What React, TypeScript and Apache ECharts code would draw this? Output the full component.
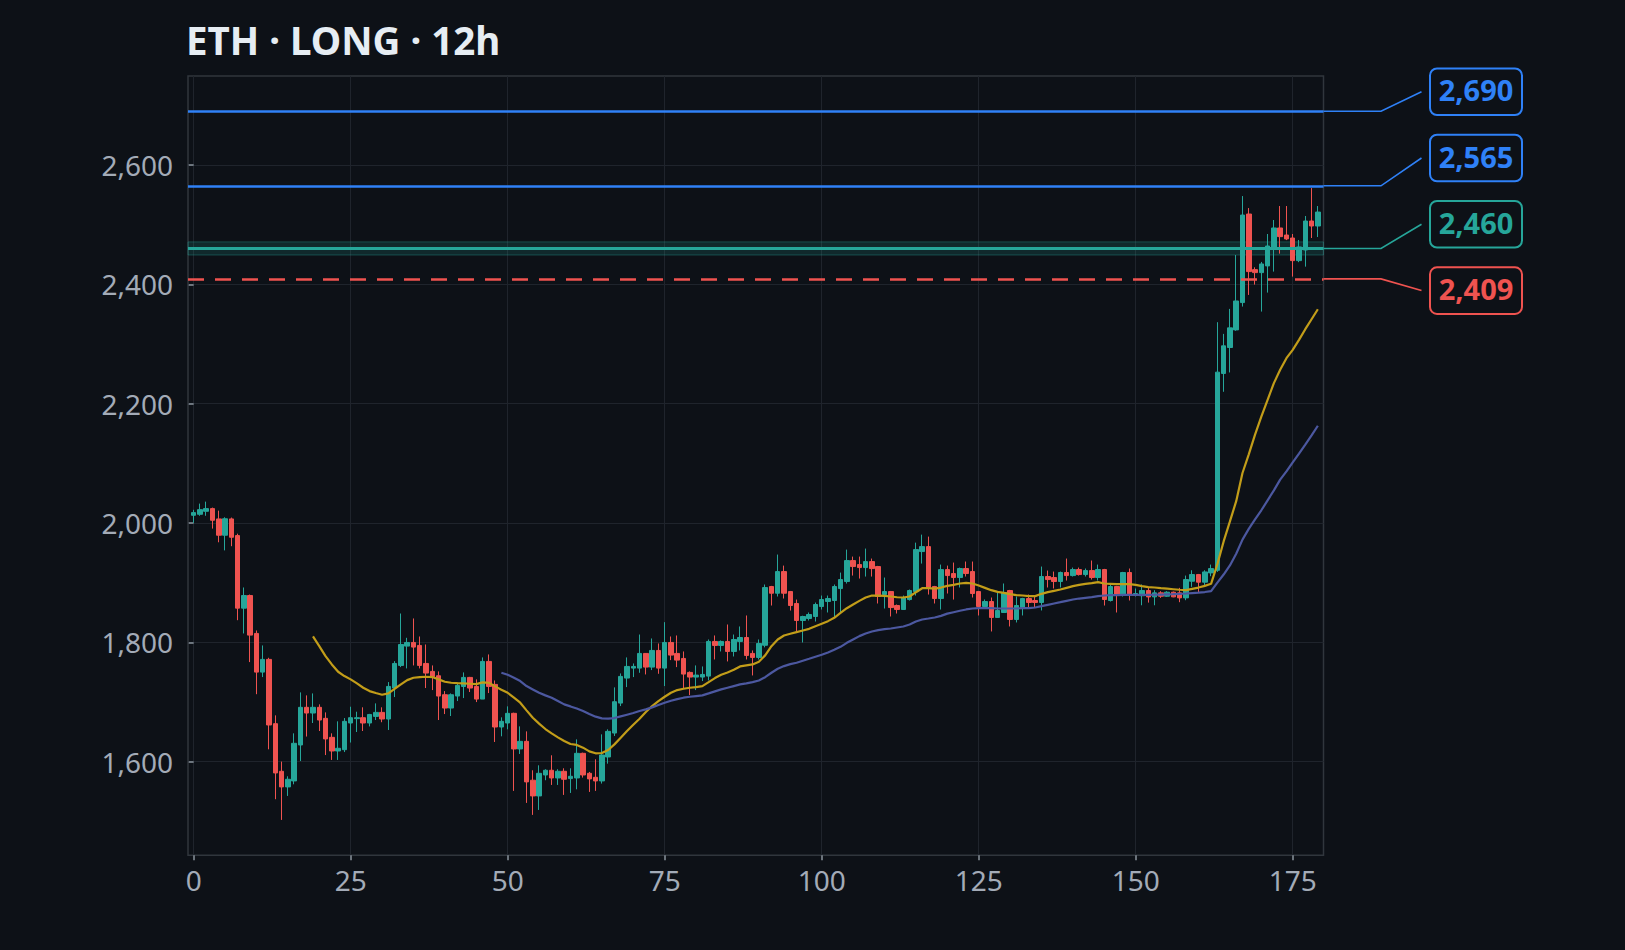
import React, { useEffect, useRef } from "react";
import * as echarts from "echarts";

const TITLE = "ETH · LONG · 12h";

// ---- candles (index 0..179) ----
const opens = [
  2012.8, 2014.5, 2019.5, 2024.0, 2006.7, 1979.4, 2006.7, 1978.8, 1857.2, 1878.4,
  1814.8, 1750.0, 1771.3, 1663.6, 1583.8, 1557.6, 1567.6, 1627.9, 1691.0, 1681.4,
  1691.0, 1672.5, 1640.7, 1617.8, 1620.0, 1664.7, 1672.0, 1673.6, 1664.7, 1675.8,
  1682.5, 1671.4, 1723.3, 1761.2, 1793.6, 1799.7, 1794.7, 1764.5, 1751.2, 1743.9,
  1712.1, 1689.8, 1709.9, 1725.9, 1741.1, 1726.0, 1704.8, 1767.9, 1729.4, 1658.0,
  1664.7, 1680.9, 1621.2, 1634.0, 1568.8, 1542.5, 1577.6, 1585.5, 1572.6, 1583.8,
  1571.5, 1572.6, 1613.9, 1580.4, 1573.7, 1567.6, 1607.8, 1647.9, 1698.1, 1740.0,
  1756.7, 1756.7, 1781.3, 1758.4, 1786.3, 1756.7, 1799.7, 1781.3, 1772.9, 1749.5,
  1741.7, 1741.7, 1743.3, 1801.4, 1794.7, 1801.4, 1784.6, 1801.4, 1808.0, 1781.3,
  1774.6, 1795.0, 1893.4, 1882.2, 1918.5, 1885.0, 1865.0, 1836.5, 1839.8, 1843.2,
  1859.9, 1868.3, 1870.0, 1890.0, 1901.8, 1936.9, 1930.2, 1925.2, 1935.2, 1926.9,
  1880.0, 1885.0, 1861.6, 1854.9, 1871.6, 1885.0, 1952.0, 1960.3, 1893.4, 1873.3,
  1921.8, 1915.2, 1908.5, 1923.6, 1918.5, 1885.0, 1860.0, 1868.3, 1841.6, 1849.9,
  1886.7, 1838.2, 1858.3, 1873.3, 1870.0, 1866.7, 1910.2, 1908.5, 1901.8, 1916.9,
  1911.8, 1921.9, 1913.5, 1920.2, 1908.5, 1921.9, 1870.0, 1893.4, 1880.0, 1916.9,
  1878.4, 1878.0, 1886.7, 1876.1, 1882.8, 1877.2, 1883.9, 1882.8, 1874.4, 1902.3,
  1913.5, 1900.7, 1916.3, 1920.7, 2250.5, 2294.0, 2323.5, 2369.3, 2517.7, 2424.5,
  2419.5, 2430.7, 2460.8, 2494.3, 2482.5, 2477.5, 2439.6, 2457.4, 2506.0, 2497.6,
];
const closes = [
  2017.3, 2022.3, 2024.0, 2004.5, 1979.4, 2007.0, 1976.0, 1857.2, 1878.4, 1812.0,
  1750.0, 1771.3, 1661.4, 1581.0, 1557.6, 1570.4, 1630.7, 1691.0, 1681.4, 1691.0,
  1669.7, 1638.0, 1617.8, 1622.3, 1667.5, 1673.6, 1673.6, 1664.7, 1679.0, 1682.5,
  1671.4, 1726.0, 1764.5, 1796.3, 1799.7, 1791.9, 1761.2, 1748.4, 1742.2, 1709.9,
  1689.8, 1712.1, 1727.7, 1741.1, 1723.3, 1704.8, 1767.9, 1726.0, 1658.0, 1667.5,
  1680.9, 1621.2, 1634.0, 1566.0, 1542.5, 1580.4, 1585.5, 1572.6, 1583.8, 1570.4,
  1575.4, 1613.9, 1577.6, 1571.0, 1567.6, 1611.1, 1650.7, 1700.4, 1742.8, 1759.5,
  1759.5, 1781.3, 1758.4, 1786.3, 1756.7, 1799.7, 1778.5, 1770.1, 1746.7, 1741.7,
  1745.0, 1746.1, 1801.4, 1794.7, 1801.4, 1784.6, 1804.7, 1808.0, 1777.9, 1774.6,
  1798.0, 1891.7, 1882.2, 1918.5, 1882.2, 1861.6, 1836.5, 1843.2, 1846.5, 1863.3,
  1871.6, 1873.3, 1893.4, 1905.1, 1936.9, 1926.9, 1925.2, 1935.2, 1923.5, 1876.7,
  1885.0, 1858.2, 1854.9, 1875.0, 1886.7, 1955.3, 1960.3, 1891.7, 1873.3, 1921.8,
  1911.8, 1908.5, 1923.6, 1915.2, 1881.7, 1860.0, 1868.3, 1841.6, 1853.3, 1883.4,
  1838.2, 1861.6, 1873.3, 1866.7, 1866.7, 1910.2, 1905.1, 1901.8, 1916.9, 1911.8,
  1921.9, 1913.5, 1920.2, 1908.5, 1921.9, 1871.7, 1893.4, 1880.0, 1916.9, 1880.0,
  1881.7, 1886.7, 1876.0, 1882.8, 1877.2, 1883.9, 1876.1, 1874.4, 1905.1, 1913.5,
  1900.7, 1917.9, 1923.5, 2252.7, 2296.8, 2326.9, 2372.0, 2516.0, 2421.2, 2419.5,
  2434.0, 2464.1, 2494.3, 2479.8, 2475.9, 2439.6, 2462.5, 2506.0, 2497.6, 2521.0,
];
const lows = [
  2000.0, 2012.0, 2012.0, 1990.5, 1967.6, 1954.0, 1961.0, 1837.0, 1814.8, 1766.8,
  1713.0, 1741.7, 1620.6, 1537.0, 1502.3, 1542.5, 1562.0, 1601.0, 1642.0, 1664.7,
  1651.3, 1611.0, 1602.8, 1602.8, 1616.0, 1632.0, 1649.6, 1651.3, 1659.0, 1669.7,
  1666.0, 1653.0, 1708.2, 1758.4, 1756.2, 1761.2, 1756.2, 1723.3, 1719.9, 1669.7,
  1679.7, 1676.4, 1701.5, 1706.5, 1716.6, 1699.8, 1704.8, 1714.9, 1632.9, 1642.4,
  1654.1, 1550.9, 1612.8, 1530.8, 1510.7, 1519.0, 1568.8, 1560.9, 1560.9, 1544.2,
  1547.5, 1553.6, 1573.2, 1549.2, 1550.9, 1563.2, 1596.6, 1642.9, 1693.1, 1724.9,
  1741.7, 1748.9, 1746.1, 1753.4, 1747.2, 1726.6, 1770.1, 1758.4, 1723.3, 1711.5,
  1719.9, 1735.0, 1736.1, 1771.2, 1784.6, 1767.9, 1776.2, 1786.3, 1771.2, 1744.4,
  1771.2, 1791.5, 1861.6, 1876.7, 1873.3, 1853.2, 1818.1, 1799.7, 1836.5, 1834.8,
  1854.9, 1849.9, 1841.5, 1849.9, 1898.4, 1911.8, 1906.8, 1910.1, 1910.1, 1865.0,
  1856.6, 1843.2, 1848.2, 1854.9, 1869.9, 1878.3, 1931.9, 1880.0, 1865.0, 1854.9,
  1881.7, 1871.6, 1891.8, 1910.2, 1875.0, 1844.9, 1860.0, 1818.1, 1841.6, 1849.9,
  1826.5, 1833.2, 1844.9, 1858.3, 1858.3, 1853.3, 1891.8, 1890.1, 1891.8, 1903.5,
  1910.2, 1911.8, 1910.2, 1905.1, 1903.5, 1861.6, 1868.3, 1849.9, 1876.7, 1870.0,
  1876.7, 1862.0, 1866.5, 1862.0, 1874.4, 1876.1, 1875.5, 1867.2, 1870.5, 1892.9,
  1883.9, 1894.0, 1910.7, 1918.0, 2219.8, 2252.2, 2322.0, 2362.6, 2382.1, 2399.4,
  2354.2, 2386.0, 2421.2, 2451.3, 2474.0, 2412.8, 2437.0, 2429.5, 2477.5, 2479.2,
];
const highs = [
  2022.0, 2032.4, 2035.7, 2025.7, 2020.6, 2009.5, 2009.0, 1982.0, 1891.8, 1880.0,
  1819.8, 1794.7, 1774.0, 1677.5, 1600.0, 1575.4, 1647.4, 1716.0, 1711.0, 1714.3,
  1696.0, 1682.5, 1647.4, 1667.5, 1673.0, 1692.0, 1683.6, 1691.0, 1680.0, 1697.6,
  1691.0, 1733.3, 1768.4, 1848.2, 1807.5, 1839.9, 1809.7, 1796.3, 1761.2, 1751.2,
  1718.2, 1714.3, 1732.2, 1749.5, 1742.0, 1737.8, 1774.6, 1779.6, 1736.0, 1674.2,
  1692.6, 1682.0, 1659.1, 1650.7, 1585.5, 1593.8, 1587.2, 1610.6, 1587.2, 1588.8,
  1588.8, 1637.3, 1615.0, 1582.7, 1603.9, 1645.7, 1654.1, 1724.4, 1747.8, 1774.6,
  1764.5, 1813.0, 1782.0, 1806.4, 1798.0, 1833.7, 1809.7, 1811.4, 1784.6, 1751.2,
  1761.2, 1759.5, 1804.7, 1811.4, 1803.0, 1829.8, 1813.0, 1826.5, 1844.9, 1786.3,
  1804.7, 1896.8, 1894.5, 1947.0, 1928.5, 1886.0, 1871.6, 1844.5, 1849.9, 1866.6,
  1878.3, 1878.3, 1896.8, 1916.8, 1955.3, 1943.6, 1943.6, 1957.0, 1940.3, 1928.0,
  1908.5, 1886.0, 1863.3, 1878.3, 1888.4, 1967.0, 1980.4, 1977.1, 1894.5, 1930.2,
  1928.5, 1933.6, 1925.2, 1935.3, 1935.3, 1886.0, 1871.7, 1875.0, 1885.0, 1898.5,
  1887.8, 1876.7, 1874.5, 1880.0, 1876.7, 1926.9, 1920.2, 1918.5, 1918.5, 1940.3,
  1925.2, 1925.2, 1923.6, 1937.0, 1930.2, 1923.0, 1896.8, 1894.5, 1918.0, 1923.6,
  1890.1, 1896.8, 1891.5, 1887.3, 1885.6, 1885.6, 1885.0, 1891.2, 1911.8, 1920.7,
  1914.5, 1920.7, 1930.2, 2336.4, 2316.8, 2358.7, 2449.0, 2547.8, 2527.7, 2428.4,
  2437.4, 2484.2, 2507.7, 2531.1, 2531.1, 2484.2, 2474.2, 2514.4, 2561.2, 2531.1,
];

// ---- moving averages ----
const fastMaStart = 19;
const fastMa = [
  1809.8, 1793.6, 1776.8, 1762.9, 1750.6, 1743.4, 1737.8, 1731.0, 1723.8, 1718.2,
  1714.9, 1712.1, 1714.3, 1722.1, 1729.4, 1736.6, 1740.5, 1741.7, 1742.2, 1741.7,
  1737.8, 1733.9, 1732.2, 1731.6, 1731.1, 1730.5, 1729.9, 1732.7, 1732.2, 1726.1,
  1720.5, 1715.4, 1707.1, 1698.7, 1685.9, 1673.6, 1663.6, 1654.6, 1647.4, 1640.7,
  1634.6, 1629.5, 1628.0, 1623.4, 1617.2, 1613.9, 1614.4, 1619.5, 1628.9, 1640.1,
  1651.3, 1661.9, 1671.9, 1683.1, 1693.1, 1701.5, 1708.7, 1715.4, 1719.9, 1722.1,
  1723.8, 1724.9, 1726.6, 1733.3, 1740.0, 1745.6, 1749.5, 1753.9, 1759.5, 1761.2,
  1762.9, 1767.5, 1778.0, 1793.5, 1804.7, 1811.4, 1814.2, 1817.0, 1819.8, 1822.5,
  1827.0, 1830.9, 1835.4, 1841.0, 1849.3, 1857.1, 1863.3, 1869.4, 1875.0, 1878.3,
  1878.3, 1877.8, 1876.7, 1875.5, 1875.0, 1876.7, 1883.9, 1890.6, 1890.6, 1890.0,
  1891.7, 1894.5, 1896.2, 1898.5, 1899.6, 1898.5, 1895.1, 1891.2, 1887.3, 1884.5,
  1882.8, 1880.6, 1878.9, 1878.4, 1877.3, 1877.3, 1881.2, 1884.0, 1886.2, 1888.4,
  1891.2, 1894.0, 1896.2, 1897.9, 1899.0, 1900.7, 1898.5, 1897.9, 1897.3, 1897.3,
  1897.3, 1896.2, 1894.0, 1892.3, 1891.8, 1890.6, 1889.8, 1888.9, 1888.0, 1887.3,
  1889.5, 1891.7, 1894.5, 1898.0, 1931.0, 1969.0, 2002.5, 2036.5, 2083.7, 2115.0,
  2148.0, 2178.0, 2206.4, 2234.3, 2256.6, 2276.1, 2290.1, 2306.8, 2324.7, 2341.4,
  2358.1,
];
const slowMaStart = 49;
const slowMa = [
  1748.9, 1745.6, 1740.5, 1735.0, 1726.6, 1721.0, 1715.4, 1711.0, 1707.1, 1701.5,
  1695.9, 1692.5, 1689.0, 1684.8, 1679.7, 1675.3, 1672.5, 1671.9, 1673.0, 1675.8,
  1678.6, 1681.4, 1684.8, 1687.6, 1690.9, 1694.8, 1698.7, 1702.1, 1704.8, 1707.1,
  1708.7, 1709.9, 1711.0, 1714.3, 1717.7, 1721.0, 1723.8, 1726.6, 1729.4, 1731.1,
  1733.3, 1736.0, 1741.5, 1748.9, 1755.6, 1760.1, 1763.4, 1765.7, 1769.0, 1772.3,
  1775.7, 1779.0, 1782.9, 1787.4, 1792.4, 1799.1, 1804.7, 1810.3, 1814.7, 1818.1,
  1820.3, 1822.0, 1823.1, 1824.8, 1826.5, 1829.8, 1834.8, 1838.2, 1839.8, 1841.5,
  1844.3, 1848.0, 1850.4, 1852.8, 1855.0, 1856.6, 1857.2, 1857.2, 1857.2, 1856.6,
  1856.6, 1856.6, 1856.6, 1857.2, 1857.2, 1858.3, 1860.5, 1862.8, 1865.0, 1867.2,
  1869.5, 1871.7, 1873.3, 1874.5, 1875.6, 1877.3, 1878.4, 1878.9, 1878.9, 1879.5,
  1879.5, 1879.5, 1879.5, 1879.6, 1879.7, 1880.0, 1880.3, 1880.6, 1881.0, 1881.7,
  1882.5, 1883.3, 1884.2, 1885.6, 1900.0, 1913.5, 1928.8, 1948.4, 1972.1, 1990.0,
  2006.0, 2021.2, 2037.9, 2054.6, 2072.5, 2086.4, 2101.5, 2116.0, 2131.1, 2146.7,
  2162.9,
];

// ---- trade levels ----
const levels = [2690, 2565, 2460, 2409];
const levelKinds = ["target", "target", "entry", "stop"];
const entryBand = [2449, 2471];

// ---- axes ----
const xTicks = [0, 25, 50, 75, 100, 125, 150, 175];
const yTicks = [1600, 1800, 2000, 2200, 2400, 2600];
const xRange = [-0.9, 179.9];
const yRange = [1443, 2749];

// ---- styles ----
const BG = "#0d1117";
const FONT = "'Noto Sans', 'DejaVu Sans', sans-serif";
const UP = "#26a69a";
const DOWN = "#ef5350";
const BLUE = "#2f81f7";
const GRID = "#1f242c";
const FRAME = "#30363d";
const LABEL = "#a3abb7";
const KIND_COLOR: Record<string, string> = { target: BLUE, entry: UP, stop: DOWN };

export default function App() {
  const ref = useRef<HTMLDivElement>(null);

  useEffect(() => {
    document.body.style.margin = "0";
    document.body.style.background = BG;
    const chart = echarts.init(ref.current!, null, { renderer: "svg" });

    const candleData = opens.map((o, i) => [i, o, closes[i], lows[i], highs[i]]);
    const fastData = fastMa.map((v, k) => [fastMaStart + k, v]);
    const slowData = slowMa.map((v, k) => [slowMaStart + k, v]);

    const markLines = levels.map((lv, k) => {
      const kind = levelKinds[k];
      const color = KIND_COLOR[kind];
      return {
        yAxis: lv,
        lineStyle: {
          color,
          width: kind === "entry" ? 3 : 2.5,
          type: kind === "stop" ? [16, 11] : "solid",
          opacity: 1,
        },
      };
    });

    chart.setOption({
      animation: false,
      backgroundColor: BG,
      title: {
        text: TITLE,
        left: 186,
        top: 20,
        padding: 0,
        textStyle: { color: "#e6edf3", fontSize: 38.5, fontWeight: "bold", fontFamily: FONT },
      },
      grid: {
        left: 188,
        right: 301.5,
        top: 76,
        bottom: 94.7,
        show: true,
        borderColor: FRAME,
        borderWidth: 1.5,
        backgroundColor: "transparent",
        containLabel: false,
      },
      xAxis: {
        type: "value",
        min: xRange[0],
        max: xRange[1],
        axisLine: { show: false },
        axisTick: { show: true, length: 5, customValues: xTicks, lineStyle: { color: "#8b949e", width: 1.5 } },
        axisLabel: { customValues: xTicks, margin: 11, color: LABEL, fontSize: 28, fontFamily: FONT },
        splitLine: { show: true, lineStyle: { color: GRID, width: 1 } },
      },
      yAxis: {
        type: "value",
        min: yRange[0],
        max: yRange[1],
        axisLine: { show: false },
        axisTick: { show: true, length: 5, customValues: yTicks, lineStyle: { color: "#8b949e", width: 1.5 } },
        axisLabel: {
          customValues: yTicks,
          margin: 15,
          color: LABEL,
          fontSize: 28,
          fontFamily: FONT,
          formatter: (v: number) => v.toLocaleString("en-US"),
        },
        splitLine: { show: true, lineStyle: { color: GRID, width: 1 } },
      },
      series: [
        {
          type: "candlestick",
          data: candleData,
          encode: { x: 0, y: [1, 2, 3, 4] },
          barWidth: 5,
          itemStyle: {
            color: UP,
            color0: DOWN,
            borderColor: UP,
            borderColor0: DOWN,
            borderWidth: 1,
          },
          markArea: {
            silent: true,
            itemStyle: { color: "rgba(38,166,154,0.16)", borderColor: "rgba(38,166,154,0.35)", borderWidth: 1 },
            data: [[{ yAxis: entryBand[0] }, { yAxis: entryBand[1] }]],
          },
          markLine: {
            silent: true,
            symbol: ["none", "none"],
            label: { show: false },
            emphasis: { disabled: true },
            data: markLines,
          },
        },
        {
          type: "line",
          data: fastData,
          showSymbol: false,
          symbol: "none",
          lineStyle: { color: "#c29d19", width: 2.2 },
          z: 3,
        },
        {
          type: "line",
          data: slowData,
          showSymbol: false,
          symbol: "none",
          lineStyle: { color: "#4c58a0", width: 2.2 },
          z: 3,
        },
      ],
    });

    // right-side price tags with connectors
    const right = chart.convertToPixel({ xAxisIndex: 0 }, xRange[1]) as number;
    const TAG_FIRST_Y = 91.7;
    const TAG_STEP = 66.3;
    const elements: any[] = [];
    levels.forEach((lv, k) => {
      const color = KIND_COLOR[levelKinds[k]];
      const y = chart.convertToPixel({ yAxisIndex: 0 }, lv) as number;
      const ty = TAG_FIRST_Y + k * TAG_STEP;
      elements.push({
        type: "polyline",
        shape: { points: [[right, y], [right + 57.5, y], [right + 98, ty]] },
        style: { stroke: color, lineWidth: 1.6, fill: null },
        silent: true,
      });
      elements.push({
        type: "rect",
        shape: { x: right + 106.5, y: ty - 23.3, width: 92, height: 46.6, r: 7 },
        style: { fill: BG, stroke: color, lineWidth: 2 },
        silent: true,
      });
      elements.push({
        type: "text",
        x: right + 106.5 + 46,
        y: ty - 2,
        style: {
          text: lv.toLocaleString("en-US"),
          fill: color,
          fontSize: 29,
          fontWeight: "bold",
          fontFamily: FONT,
          align: "center",
          verticalAlign: "middle",
          textAlign: "center",
          textVerticalAlign: "middle",
        },
        silent: true,
      });
    });
    chart.setOption({ graphic: { elements } });

    return () => chart.dispose();
  }, []);

  return <div ref={ref} style={{ width: 1625, height: 950 }} />;
}
